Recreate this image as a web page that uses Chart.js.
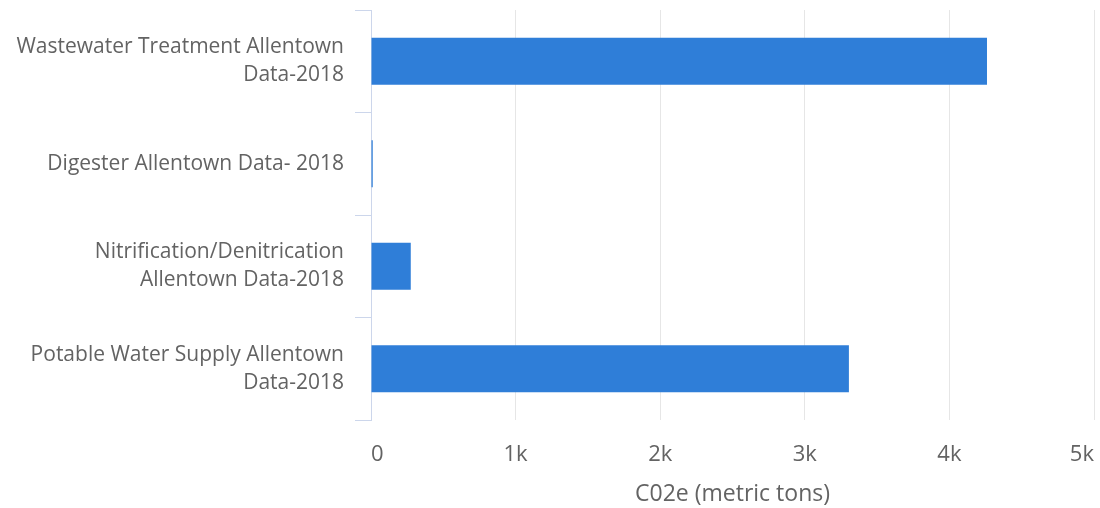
<!DOCTYPE html>
<html>
<head>
<meta charset="utf-8">
<script src="https://cdn.jsdelivr.net/npm/chart.js@4"></script>
<style>
  html, body { margin: 0; padding: 0; background: #fff; }
  #wrap { width: 1100px; height: 508px; }
</style>
</head>
<body>
<div id="wrap"><canvas id="co2Chart"></canvas></div>
<script>
const categories = [
    ['Wastewater Treatment Allentown', 'Data-2018'],
    'Digester Allentown Data- 2018',
    ['Nitrification/Denitrication', 'Allentown Data-2018'],
    ['Potable Water Supply Allentown', 'Data-2018']
];
const co2Values = [4260, 12, 275, 3305];
const xTicks = [0, 1000, 2000, 3000, 4000, 5000];

const textColor = '#636363';
const fontFamily = "'Open Sans', sans-serif";

const ctx = document.getElementById('co2Chart').getContext('2d');
const co2Chart = new Chart(ctx, {
    type: 'bar',
    data: {
        labels: categories,
        datasets: [{
            label: 'C02e',
            data: co2Values,
            backgroundColor: '#2f7ed8',
            borderWidth: 0,
            barPercentage: 0.46,
            categoryPercentage: 1
        }]
    },
    options: {
        indexAxis: 'y',
        responsive: true,
        maintainAspectRatio: false,
        animation: false,
        layout: { padding: { top: 10, right: 6, left: 0, bottom: 0 } },
        plugins: {
            legend: { display: false },
            tooltip: { enabled: false }
        },
        scales: {
            y: {
                offset: true,
                border: { color: '#ccd6eb', width: 1 },
                grid: {
                    offset: true,
                    drawOnChartArea: false,
                    color: '#ccd6eb',
                    tickLength: 16
                },
                ticks: {
                    color: textColor,
                    font: { family: fontFamily, size: 21, lineHeight: 1.35 },
                    padding: 11
                },
                afterFit: (scale) => {
                    scale.width = 371;
                    scale.paddingTop = 0;
                    scale.paddingBottom = 0;
                }
            },
            x: {
                min: 0,
                max: 5000,
                afterBuildTicks: (scale) => { scale.ticks = xTicks.map(v => ({ value: v })); },
                border: { display: false },
                grid: {
                    color: (c) => c.tick && c.tick.value === 0 ? 'rgba(0,0,0,0)' : '#e6e6e6',
                    drawTicks: false
                },
                ticks: {
                    color: textColor,
                    font: { family: fontFamily, size: 22 },
                    padding: 22,
                    align: 'inner',
                    callback: (v) => v === 0 ? '0' : (v / 1000) + 'k'
                },
                title: {
                    display: true,
                    text: 'C02e (metric tons)',
                    color: textColor,
                    font: { family: fontFamily, size: 23 },
                    padding: { top: 9, bottom: 0 }
                },
                afterFit: (scale) => {
                    scale.height = 88;
                    scale.paddingLeft = 0;
                    scale.paddingRight = 0;
                }
            }
        }
    }
});
</script>
</body>
</html>
